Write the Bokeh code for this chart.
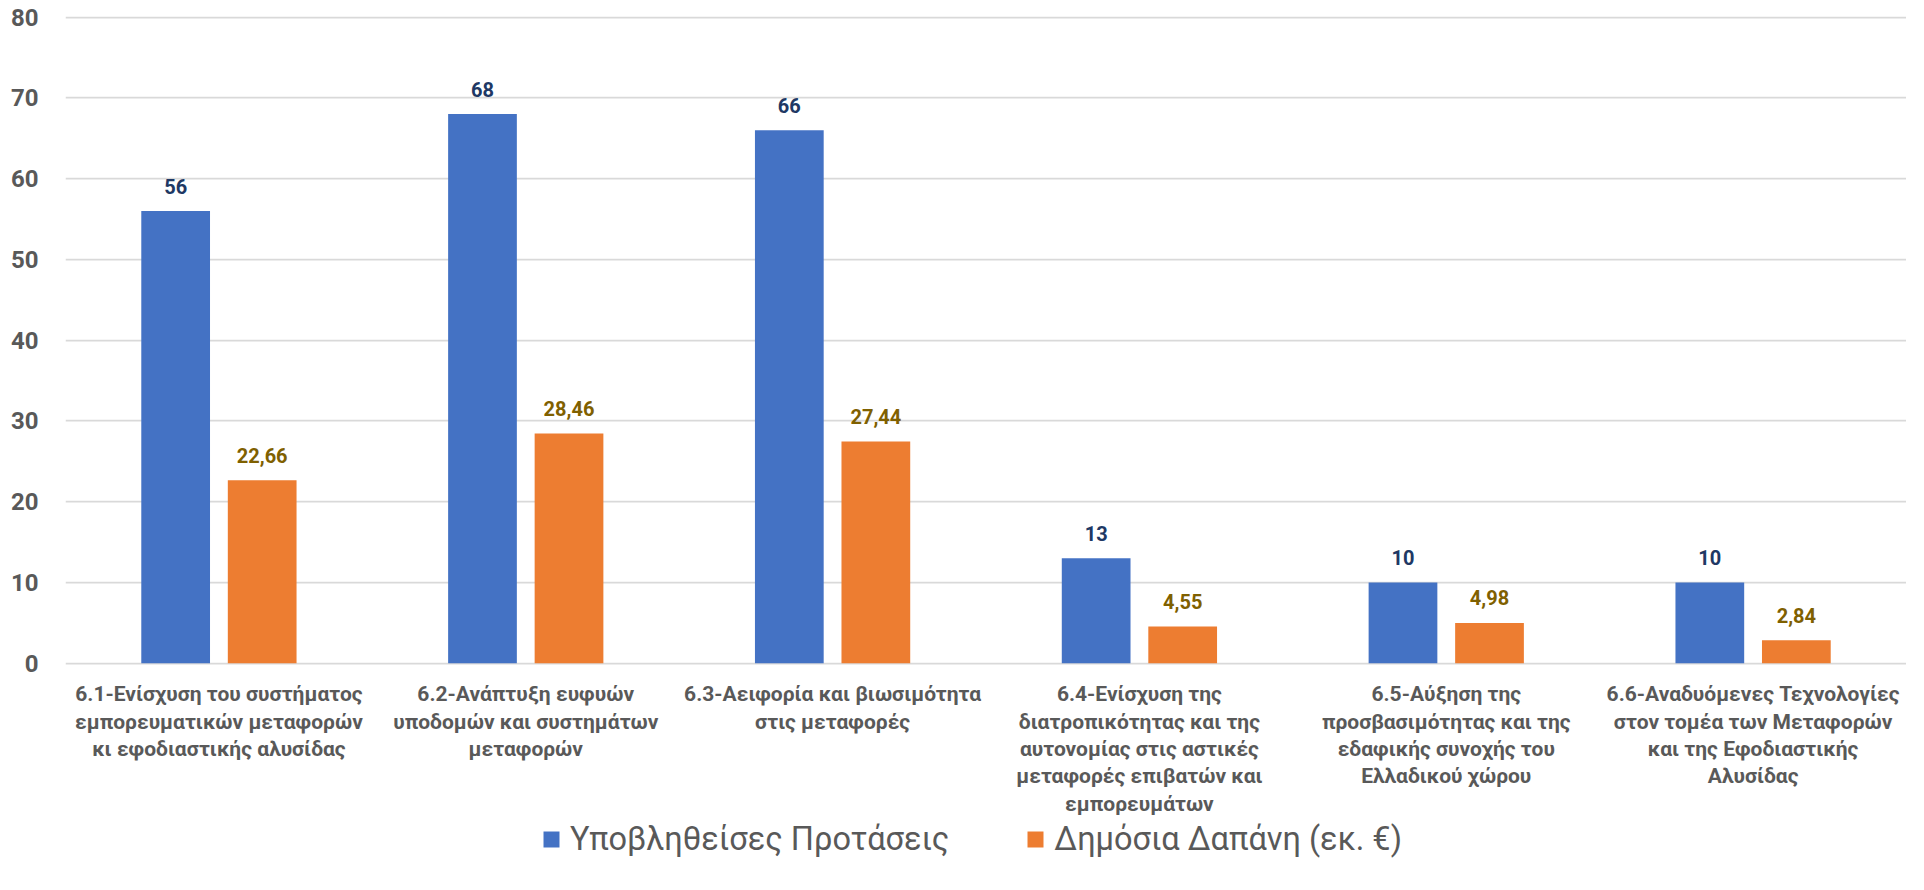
from bokeh.plotting import figure
from bokeh.layouts import row
from bokeh.models import FactorRange, FixedTicker, ColumnDataSource, Legend, LegendItem, Spacer
from bokeh.transform import dodge
from bokeh.core.properties import value
from bokeh.embed import file_html
from bokeh.resources import INLINE

categories = [
    "6.1-Ενίσχυση του συστήματος\nεμπορευματικών μεταφορών\nκι εφοδιαστικής αλυσίδας",
    "6.2-Ανάπτυξη ευφυών\nυποδομών και συστημάτων\nμεταφορών",
    "6.3-Αειφορία και βιωσιμότητα\nστις μεταφορές",
    "6.4-Ενίσχυση της\nδιατροπικότητας και της\nαυτονομίας στις αστικές\nμεταφορές επιβατών και\nεμπορευμάτων",
    "6.5-Αύξηση της\nπροσβασιμότητας και της\nεδαφικής συνοχής του\nΕλλαδικού χώρου",
    "6.6-Αναδυόμενες Τεχνολογίες\nστον τομέα των Μεταφορών\nκαι της Εφοδιαστικής\nΑλυσίδας",
]
proposals = [56, 68, 66, 13, 10, 10]
spending = [22.66, 28.46, 27.44, 4.55, 4.98, 2.84]
series_names = ["Υποβληθείσες Προτάσεις", "Δημόσια Δαπάνη (εκ. €)"]
y_ticks = [0, 10, 20, 30, 40, 50, 60, 70, 80]

src = ColumnDataSource(dict(
    cat=categories,
    base=[0] * len(categories),
    prop=proposals,
    spend=spending,
    prop_lbl=[str(v) for v in proposals],
    spend_lbl=[f"{v:.2f}".replace(".", ",") for v in spending],
))

FONT = "Roboto"
W, H = 1899, 874
PX_PER_UNIT = 646 / 80.0
y_top = 80 + 16.7 / PX_PER_UNIT
y_bottom = -(H - 662.7) / PX_PER_UNIT

p = figure(
    width=W, height=H,
    x_range=FactorRange(*categories, range_padding=0),
    y_range=(y_bottom, y_top),
    x_axis_location=None,
    output_backend="svg", toolbar_location=None,
    min_border_left=0, min_border_right=0, min_border_top=0, min_border_bottom=0,
)
p.outline_line_color = None
p.background_fill_color = "white"
p.border_fill_color = "white"

b1 = p.vbar(x=dodge("cat", -0.141, range=p.x_range), top="prop", bottom="base", width=0.224,
            source=src, fill_color="#4472C4", line_color=None)
b2 = p.vbar(x=dodge("cat", 0.141, range=p.x_range), top="spend", bottom="base", width=0.224,
            source=src, fill_color="#ED7D31", line_color=None)

p.text(x=dodge("cat", -0.141, range=p.x_range), y="prop", text="prop_lbl", source=src,
       text_align="center", text_baseline="middle", y_offset=-25,
       text_font=value(FONT), text_font_style="bold", text_font_size="20px",
       text_color="#203864")
p.text(x=dodge("cat", 0.141, range=p.x_range), y="spend", text="spend_lbl", source=src,
       text_align="center", text_baseline="middle", y_offset=-25,
       text_font=value(FONT), text_font_style="bold", text_font_size="20px",
       text_color="#7F6000")

# category labels under the baseline, on the categorical scale
p.text(x="cat", y="base", text="cat", source=src,
       text_align="center", text_baseline="top", y_offset=19,
       text_font=value(FONT), text_font_style="bold", text_font_size="21px",
       text_line_height=1.14, text_color="#595959")

p.yaxis.ticker = FixedTicker(ticks=y_ticks)
p.yaxis.axis_line_color = None
p.yaxis.major_tick_line_color = None
p.yaxis.minor_tick_line_color = None
p.yaxis.major_label_text_font = FONT
p.yaxis.major_label_text_font_style = "bold"
p.yaxis.major_label_text_font_size = "24px"
p.yaxis.major_label_text_color = "#595959"
p.yaxis.major_label_standoff = 21

p.xgrid.grid_line_color = None
p.ygrid.grid_line_color = "#D9D9D9"
p.ygrid.grid_line_width = 1.75

legend = Legend(items=[LegendItem(label=series_names[0], renderers=[b1]),
                       LegendItem(label=series_names[1], renderers=[b2])],
                orientation="horizontal", location=(476, 16))
legend.label_text_font = FONT
legend.label_text_font_size = "32.5px"
legend.label_text_color = "#595959"
legend.glyph_width = 20
legend.glyph_height = 20
legend.label_standoff = 9
legend.spacing = 76
legend.padding = 0
legend.margin = 0
legend.border_line_color = None
legend.background_fill_alpha = 0
p.add_layout(legend, "center")

layout = row(Spacer(width=7, height=H), p)
open("out.html", "w").write(file_html(layout, INLINE))
